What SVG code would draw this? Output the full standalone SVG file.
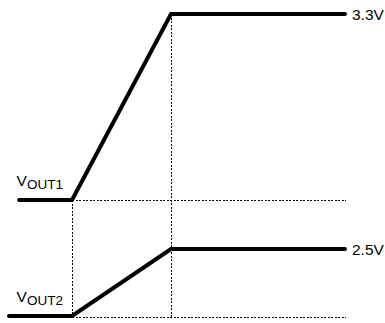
<svg xmlns="http://www.w3.org/2000/svg" width="385" height="323" viewBox="0 0 385 323">
<style>
.dot{fill:none;stroke:#000;stroke-width:1;stroke-dasharray:2 1.5;shape-rendering:crispEdges}
.sig{fill:none;stroke:#000;stroke-width:4;stroke-linecap:round;stroke-linejoin:miter}
text{font-family:"Liberation Sans",Arial,sans-serif;fill:#000}
.lbl{font-size:15.5px}
.sub{font-size:13.5px}
</style>
<rect width="385" height="323" fill="#fff"/>
<g id="grid">
<line class="dot" x1="72.5" y1="200" x2="72.5" y2="318"/>
<line class="dot" x1="171.5" y1="14" x2="171.5" y2="318"/>
<line class="dot" x1="72" y1="200.5" x2="346" y2="200.5"/>
<line class="dot" x1="72" y1="317.5" x2="346" y2="317.5"/>
</g>
<g id="vout1">
<polyline class="sig" points="19,200 72,200 171,14 345,14"/>
<text class="lbl" x="16.5" y="185.5">V</text><text class="sub" x="27" y="188.5">OUT1</text>
<text class="lbl" x="352" y="19.5">3.3V</text>
</g>
<g id="vout2">
<polyline class="sig" points="9,316 72,316 171,249 345,249"/>
<text class="lbl" x="16.5" y="301.5">V</text><text class="sub" x="27" y="304.5">OUT2</text>
<text class="lbl" x="352" y="254.5">2.5V</text>
</g>
</svg>
